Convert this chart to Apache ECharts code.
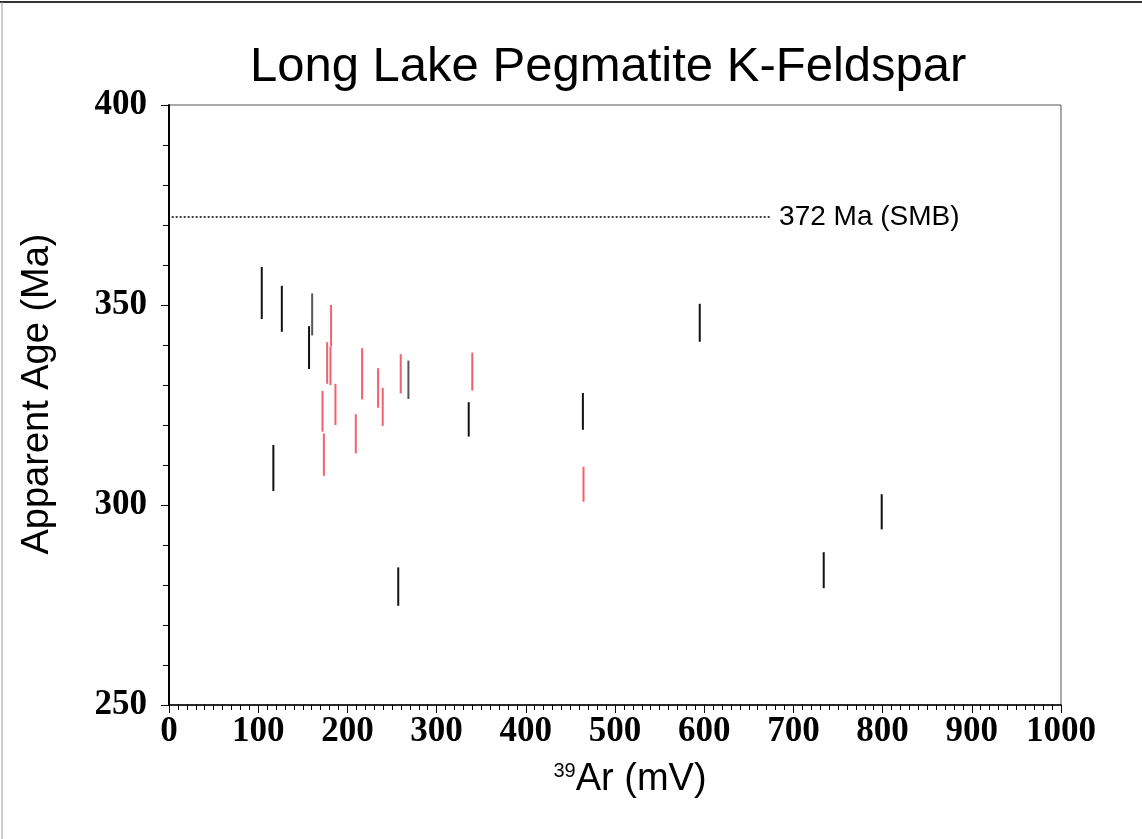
<!DOCTYPE html>
<html>
<head>
<meta charset="utf-8">
<script src="https://cdn.jsdelivr.net/npm/echarts@6/dist/echarts.min.js"></script>
<style>
  html, body { margin: 0; padding: 0; background: #fff; }
  #chart { width: 1142px; height: 839px; }
</style>
</head>
<body>
<div id="chart"></div>
<script>
// heating steps: cumulative 39Ar (mV) and age range (Ma)
const blackX  = [104, 126.5, 157, 117, 257, 336, 464, 595, 734, 799]
const blackLo = [346.5, 343.3, 334, 303.5, 274.8, 317.1, 318.8, 340.8, 279.2, 293.9]
const blackHi = [359.5, 354.8, 344.7, 315, 284.4, 325.7, 328, 350.3, 288.2, 302.7]

const grayX  = [160.5, 268.4]
const grayLo = [342.4, 326.5]
const grayHi = [352.9, 336.1]

const redX  = [181.7, 181, 177.3, 186.6, 172.1, 173.6, 209.4, 216.5, 234.4, 239.6, 259.8, 340, 464.7]
const redLo = [339.6, 330, 330.3, 320, 318.3, 307.3, 312.9, 326.4, 324.3, 319.8, 327.9, 328.6, 300.8]
const redHi = [350, 339.6, 340.7, 330.3, 328.5, 317.9, 322.7, 339.2, 334.2, 329.3, 337.7, 338.1, 309.6]

// reference age of the South Mountain Batholith
const smbAge = 372
const smbX = [3, 675]

const xTicks = { min: 0, max: 1000, interval: 100 }
const yTicks = { min: 250, max: 400, interval: 50 }

const chart = echarts.init(document.getElementById('chart'))

function steps(xs, lo, hi) {
  return xs.map((x, i) => [x, lo[i], hi[i]])
}

function renderBar(params, api) {
  const p1 = api.coord([api.value(0), api.value(1)])
  const p2 = api.coord([api.value(0), api.value(2)])
  return {
    type: 'line',
    shape: { x1: p1[0], y1: p1[1], x2: p2[0], y2: p2[1] },
    style: { stroke: api.visual('color'), lineWidth: 2 }
  }
}

function barSeries(name, color, data) {
  return {
    name,
    type: 'custom',
    renderItem: renderBar,
    itemStyle: { color },
    encode: { x: 0, y: [1, 2] },
    data
  }
}

const tickFont = {
  color: '#000',
  fontFamily: 'Liberation Serif',
  fontWeight: 'bold',
  fontSize: 35,
  formatter: v => String(v)
}

chart.setOption({
  animation: false,
  backgroundColor: '#fff',
  title: {
    text: 'Long Lake Pegmatite K-Feldspar',
    left: 245,
    top: 38,
    textStyle: { fontFamily: 'Liberation Sans', fontWeight: 'normal', fontSize: 49, color: '#000' }
  },
  graphic: [
    { type: 'line', shape: { x1: 0, y1: 2, x2: 1142, y2: 2 }, style: { stroke: '#333', lineWidth: 2 } },
    { type: 'line', shape: { x1: 2, y1: 2, x2: 2, y2: 839 }, style: { stroke: '#999', lineWidth: 1 } }
  ],
  grid: {
    left: 169,
    right: 81,
    top: 105,
    bottom: 134,
    show: true,
    borderColor: '#555',
    borderWidth: 1
  },
  xAxis: {
    type: 'value',
    min: xTicks.min,
    max: xTicks.max,
    interval: xTicks.interval,
    name: '{sup|39}Ar (mV)',
    nameLocation: 'middle',
    nameGap: 56,
    nameTextStyle: {
      color: '#000',
      fontFamily: 'Liberation Sans',
      fontSize: 38,
      padding: [0, 0, 0, 30],
      rich: {
        sup: { fontFamily: 'Liberation Sans', fontSize: 20, verticalAlign: 'top', padding: [0, 0, 16, 0], color: '#000' }
      }
    },
    axisLine: { onZero: false, lineStyle: { color: '#000', width: 1.5 } },
    axisTick: { inside: false, length: 8, lineStyle: { color: '#000', width: 1 } },
    minorTick: { show: true, splitNumber: 10, length: 5, lineStyle: { color: '#000', width: 1 } },
    splitLine: { show: false },
    axisLabel: Object.assign({ margin: 9 }, tickFont)
  },
  yAxis: {
    type: 'value',
    min: yTicks.min,
    max: yTicks.max,
    interval: yTicks.interval,
    name: 'Apparent Age (Ma)',
    nameLocation: 'middle',
    nameGap: 112,
    nameTextStyle: { color: '#000', fontFamily: 'Liberation Sans', fontSize: 38, padding: [0, 0, 0, 22] },
    axisLine: { onZero: false, lineStyle: { color: '#000', width: 2 } },
    axisTick: { inside: false, length: 8, lineStyle: { color: '#000', width: 1 } },
    minorTick: { show: true, splitNumber: 5, length: 6, lineStyle: { color: '#000', width: 1 } },
    splitLine: { show: false },
    axisLabel: Object.assign({ margin: 22 }, tickFont)
  },
  series: [
    {
      name: 'SMB',
      type: 'line',
      data: smbX.map(x => [x, smbAge]),
      symbol: 'none',
      lineStyle: { color: '#000', width: 1.5, type: [2, 2] },
      endLabel: {
        show: true,
        formatter: smbAge + ' Ma (SMB)',
        distance: 8,
        color: '#000',
        fontFamily: 'Liberation Sans',
        fontSize: 28
      }
    },
    barSeries('black', '#111', steps(blackX, blackLo, blackHi)),
    barSeries('gray', '#555', steps(grayX, grayLo, grayHi)),
    barSeries('red', '#f2606e', steps(redX, redLo, redHi))
  ]
})
</script>
</body>
</html>
